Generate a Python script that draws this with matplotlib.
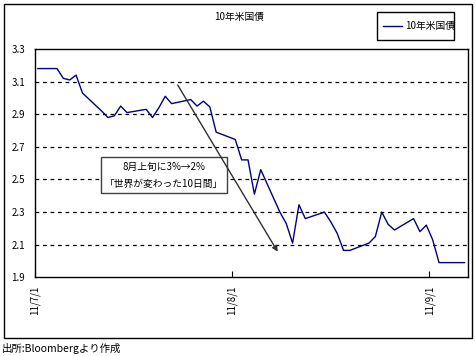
import matplotlib
matplotlib.use("Agg")
import matplotlib.pyplot as plt
import matplotlib.dates as mdates
from matplotlib.patches import Rectangle
import numpy as np
import datetime as dt

plt.rcParams['font.family'] = ['Noto Sans CJK JP', 'DejaVu Sans']

title = "10年米国債"
series_name = "10年米国債"
dates = ["2011-07-01", "2011-07-04", "2011-07-05", "2011-07-06", "2011-07-07", "2011-07-08",
         "2011-07-11", "2011-07-12", "2011-07-13", "2011-07-14", "2011-07-15",
         "2011-07-18", "2011-07-19", "2011-07-20", "2011-07-21", "2011-07-22",
         "2011-07-25", "2011-07-26", "2011-07-27", "2011-07-28", "2011-07-29",
         "2011-08-01", "2011-08-02", "2011-08-03", "2011-08-04", "2011-08-05",
         "2011-08-08", "2011-08-09", "2011-08-10", "2011-08-11", "2011-08-12",
         "2011-08-15", "2011-08-16", "2011-08-17", "2011-08-18", "2011-08-19",
         "2011-08-22", "2011-08-23", "2011-08-24", "2011-08-25", "2011-08-26",
         "2011-08-29", "2011-08-30", "2011-08-31", "2011-09-01", "2011-09-02",
         "2011-09-05", "2011-09-06"]
yields = [3.18, 3.18, 3.12, 3.11, 3.14, 3.03,
          2.92, 2.88, 2.89, 2.95, 2.91,
          2.93, 2.88, 2.94, 3.01, 2.965,
          2.99, 2.95, 2.98, 2.945, 2.79,
          2.745, 2.62, 2.62, 2.41, 2.56,
          2.30, 2.23, 2.11, 2.345, 2.26,
          2.30, 2.24, 2.17, 2.065, 2.065,
          2.11, 2.15, 2.30, 2.225, 2.19,
          2.26, 2.18, 2.22, 2.13, 1.99,
          1.99, 1.99]
tick_dates = ["2011-07-01", "2011-08-01", "2011-09-01"]
tick_labels = ["11/7/1", "11/8/1", "11/9/1"]
y_ticks = [1.9, 2.1, 2.3, 2.5, 2.7, 2.9, 3.1, 3.3]
annot_lines = ["8月上旬に3%→2%", "「世界が変わった10日間」"]
source = "出所:Bloombergより作成"

W, H = 477, 356
fig = plt.figure(figsize=(W / 100, H / 100), dpi=100)
fig.patch.set_facecolor('white')

# outer frame
fig.patches.append(Rectangle((4 / W, 1 - 337.7 / H), 468.3 / W, 333.7 / H,
                             transform=fig.transFigure, fill=False,
                             edgecolor='black', linewidth=1.0))

L, R, T, B = 34.7, 467.7, 49, 277.3
ax = fig.add_axes([L / W, 1 - B / H, (R - L) / W, (B - T) / H])

x = [dt.datetime.strptime(d, "%Y-%m-%d") + dt.timedelta(hours=12) for d in dates]
ax.plot(x, yields, color='#000080', linewidth=1.0, label=series_name, zorder=3)

ax.set_xlim(dt.datetime(2011, 7, 1), dt.datetime(2011, 9, 7))
ax.set_ylim(1.9, 3.3)
ax.set_yticks(y_ticks)
ax.set_yticklabels([f"{v:.1f}" for v in y_ticks])
ax.set_xticks([dt.datetime.strptime(d, "%Y-%m-%d") for d in tick_dates])
ax.set_xticklabels(tick_labels, rotation=90)

for v in y_ticks[1:-1]:
    ax.axhline(v, color='black', linestyle=(0, (3, 3)), linewidth=0.9, zorder=1)

ax.tick_params(axis='y', length=0, pad=7, labelsize=7)
ax.tick_params(axis='x', direction='in', length=4, width=0.8, pad=6, labelsize=7)
for s in ax.spines.values():
    s.set_linewidth(1.0)
    s.set_color('black')

# title
fig.text(239 / W, 1 - 17 / H, title, ha='center', va='center', fontsize=7)

# legend frame (drawn separately) + legend content
fig.patches.append(Rectangle((377.3 / W, 1 - 40.3 / H), 77 / W, 28 / H,
                             transform=fig.transFigure, fill=False,
                             edgecolor='black', linewidth=1.0))
leg = ax.legend(loc='center left', bbox_to_anchor=(381 / W, 1 - 26.3 / H),
                bbox_transform=fig.transFigure, borderaxespad=0, fontsize=7,
                frameon=False, handlelength=2.0, handletextpad=0.25, borderpad=0.2)

# annotation box
bx0, bx1 = (100.7 - L) / (R - L), (227.3 - L) / (R - L)
by0, by1 = (B - 193.3) / (B - T), (B - 157.3) / (B - T)
ax.add_patch(Rectangle((bx0, by0), bx1 - bx0, by1 - by0, transform=ax.transAxes,
                       facecolor='white', edgecolor='#404040', linewidth=1.0, zorder=4))
ax.text((bx0 + bx1) / 2, by0 + (by1 - by0) * 0.72, annot_lines[0], transform=ax.transAxes,
        ha='center', va='center', fontsize=7, zorder=5)
ax.text((bx0 + bx1) / 2, by0 + (by1 - by0) * 0.27, annot_lines[1], transform=ax.transAxes,
        ha='center', va='center', fontsize=7, zorder=5)

# arrow
ax.annotate("", xy=((277.7 - L) / (R - L), (B - 251.7) / (B - T)),
            xytext=((177.7 - L) / (R - L), (B - 85) / (B - T)),
            xycoords='axes fraction', textcoords='axes fraction',
            arrowprops=dict(arrowstyle='-|>', color='#303030', lw=1.0,
                            mutation_scale=8, shrinkA=0, shrinkB=0), zorder=6)

fig.text(2 / W, 1 - 348 / H, source, ha='left', va='center', fontsize=7.5)

fig.savefig("out.png", dpi=100)
